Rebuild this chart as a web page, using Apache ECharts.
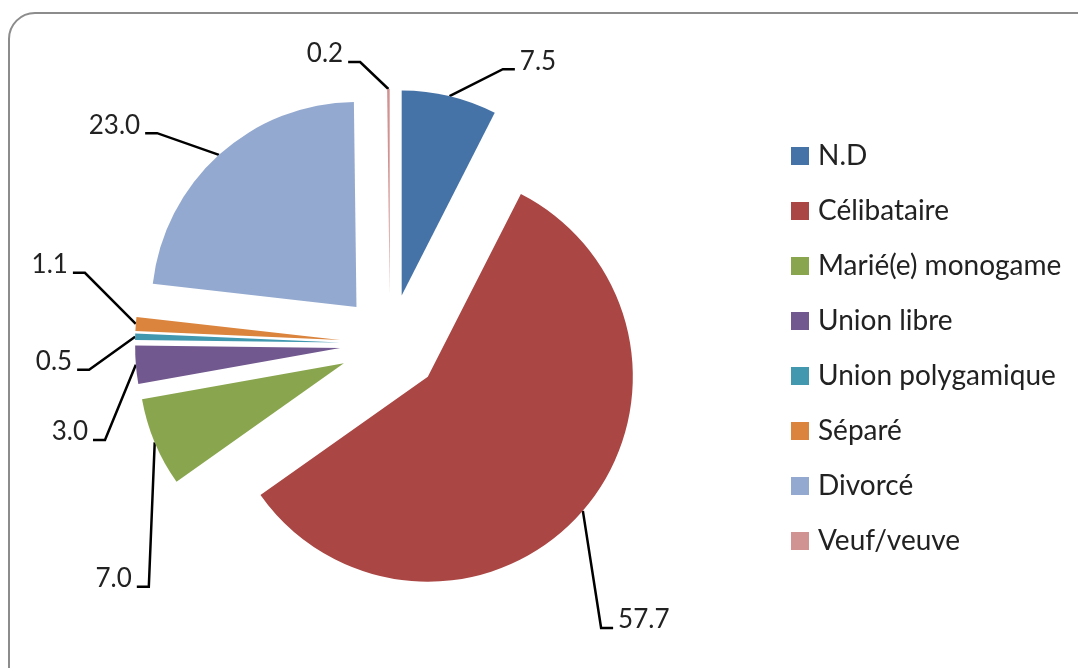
<!DOCTYPE html>
<html>
<head>
<meta charset="utf-8">
<script src="https://cdn.jsdelivr.net/npm/echarts@6/dist/echarts.min.js"></script>
<style>
  html, body { margin: 0; padding: 0; background: #fff; }
  #pie { width: 1078px; height: 668px; }
</style>
</head>
<body>
<div id="pie"></div>
<script>
var categories = ['N.D', 'Célibataire', 'Marié(e) monogame', 'Union libre', 'Union polygamique', 'Séparé', 'Divorcé', 'Veuf/veuve'];
var values = [7.5, 57.7, 7.0, 3.0, 0.5, 1.1, 23.0, 0.2];
var colors = ['#4572A7', '#AA4643', '#89A54E', '#71588F', '#4198AF', '#DB843D', '#93A9CF', '#D19392'];

(function(){
	var pie = echarts.init(document.getElementById('pie'));
	var data = [], labelData = [];
	for (var i = 0; i < categories.length; i++) {
		data.push({ name: categories[i], value: values[i], selected: true, itemStyle: { color: colors[i] } });
		labelData.push({ name: categories[i], value: values[i] });
	}
	// nudges of the label line end (Excel-like placement), per slice
	var nudge = [[42, 12], [-14, 91], [33, 129], [11, 72], [-4, 34], [-9, -48], [-33, 8], [-26, 13]];
	var option = {
		animation: false,
		textStyle: { fontFamily: 'Lato' },
		graphic: [{
			type: 'rect',
			shape: { x: 9, y: 13, width: 1120, height: 720, r: 26 },
			style: { fill: 'none', stroke: '#8c8c8c', lineWidth: 2 },
			silent: true
		}],
		legend: {
			orient: 'vertical',
			left: 786,
			top: 137,
			itemWidth: 18,
			itemHeight: 18,
			itemGap: 27,
			icon: 'rect',
			textStyle: { fontSize: 28, color: '#222', fontFamily: 'Lato', padding: [0, 0, 0, 4] },
			data: categories,
			selectedMode: false
		},
		series: [{
			name: 'Situation',
			type: 'pie',
			center: [390, 344],
			radius: 205,
			startAngle: 90,
			selectedMode: 'multiple',
			selectedOffset: 50,
			emphasis: { disabled: true },
			itemStyle: { borderWidth: 0 },
			label: { show: false },
			labelLine: { show: false },
			data: data
		}, {
			// label carrier: same slices, outer edge on the exploded rim
			name: 'Labels',
			type: 'pie',
			center: [390, 344],
			radius: 255,
			startAngle: 90,
			silent: true,
			avoidLabelOverlap: false,
			emphasis: { disabled: true },
			itemStyle: { color: 'rgba(0,0,0,0)', borderWidth: 0 },
			label: {
				show: true,
				position: 'outside',
				formatter: function (p) { return p.value.toFixed(1); },
				fontSize: 26,
				color: '#222',
				fontFamily: 'Lato'
			},
			labelLine: {
				show: true,
				length: 40,
				length2: 14,
				lineStyle: { color: '#000', width: 2.5 }
			},
			labelLayout: function (p) {
				var pts = p.labelLinePoints;
				if (!pts) return {};
				var n = nudge[p.dataIndex];
				var side = pts[2][0] < pts[1][0] ? -1 : 1;
				var end = [pts[2][0] + n[0], pts[2][1] + n[1]];
				var elbow = [end[0] - side * 12, end[1]];
				return {
					x: end[0] + side * 5,
					y: end[1] - 8,
					labelLinePoints: [pts[0], elbow, end]
				};
			},
			data: labelData
		}]
	};
	pie.setOption(option);
})();
</script>
</body>
</html>
